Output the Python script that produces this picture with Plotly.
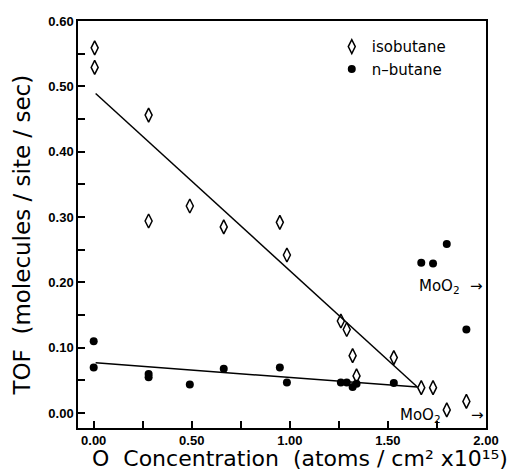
import plotly.graph_objects as go

# isobutane (open diamonds)
iso_x = [0.005, 0.005, 0.28, 0.28, 0.49, 0.663, 0.949, 0.985, 1.26, 1.29, 1.32, 1.34, 1.53, 1.67, 1.73, 1.80, 1.90]
iso_y = [0.559, 0.529, 0.456, 0.294, 0.317, 0.285, 0.292, 0.242, 0.141, 0.128, 0.088, 0.057, 0.085, 0.039, 0.039, 0.005, 0.018]

# n-butane (filled circles)
nb_x = [0.0, 0.0, 0.28, 0.28, 0.49, 0.663, 0.949, 0.985, 1.26, 1.29, 1.32, 1.34, 1.53, 1.67, 1.73, 1.80, 1.90]
nb_y = [0.110, 0.070, 0.060, 0.055, 0.044, 0.068, 0.070, 0.047, 0.047, 0.047, 0.040, 0.045, 0.046, 0.230, 0.229, 0.259, 0.128]

# linear fit lines (endpoints)
fit_x = [0.01, 1.65]
fit_iso_y = [0.489, 0.040]
fit_nb_y = [0.077, 0.040]

x_tickvals = [0, 0.25, 0.5, 0.75, 1.0, 1.25, 1.5, 1.75, 2.0]
x_ticklabels = ["0.00", "", "0.50", "", "1.00", "", "1.50", "", "2.00"]
y_tickvals = [0, 0.05, 0.1, 0.15, 0.2, 0.25, 0.3, 0.35, 0.4, 0.45, 0.5, 0.55, 0.6]
y_ticklabels = ["0.00", "", "0.10", "", "0.20", "", "0.30", "", "0.40", "", "0.50", "", "0.60"]

NB = "\u00a0"
SL = NB + "/" + NB
title_font = dict(family="DejaVu Sans", size=22, color="black")
tick_font = dict(family="Liberation Sans", size=13, color="black", weight="bold")
ann_font = dict(family="DejaVu Sans", size=15, color="black")

fig = go.Figure()
fig.add_trace(go.Scatter(x=fit_x, y=fit_iso_y, mode="lines", line=dict(color="black", width=1.5),
                         showlegend=False, hoverinfo="skip"))
fig.add_trace(go.Scatter(x=fit_x, y=fit_nb_y, mode="lines", line=dict(color="black", width=1.5),
                         showlegend=False, hoverinfo="skip"))
fig.add_trace(go.Scatter(x=iso_x, y=iso_y, mode="markers", name="isobutane",
                         marker=dict(symbol="diamond-tall-open", size=10, color="black",
                                     line=dict(width=1.5, color="black"))))
fig.add_trace(go.Scatter(x=nb_x, y=nb_y, mode="markers", name="n\u2013butane",
                         marker=dict(symbol="circle", size=8, color="black")))

fig.add_annotation(x=1.877, y=0.194, xref="x", yref="y", text="MoO<sub>2</sub>", showarrow=False,
                   xanchor="right", yanchor="middle", font=ann_font)
fig.add_annotation(x=1.995, y=0.194, xref="x", yref="y", text="\u2192", showarrow=False,
                   xanchor="right", yanchor="middle", font=ann_font)
fig.add_annotation(x=1.78, y=-0.003, xref="x", yref="y", text="MoO<sub>2</sub>", showarrow=False,
                   xanchor="right", yanchor="middle", font=ann_font)
fig.add_annotation(x=2.0, y=-0.003, xref="x", yref="y", text="\u2192", showarrow=False,
                   xanchor="right", yanchor="middle", font=ann_font)

# axis titles
fig.add_annotation(x=0.545, y=-0.073, xref="paper", yref="paper", height=26, valign="middle",
                   text="O" + NB * 2 + "Concentration" + NB * 2 + "(atoms" + SL + "cm\u00b2" + NB + "x10\u00b9\u2075)",
                   showarrow=False, xanchor="center", yanchor="middle", font=title_font)
fig.add_annotation(x=-0.137, y=0.473, xref="paper", yref="paper", textangle=-90,
                   text="TOF" + NB * 2 + "(molecules" + SL + "site" + SL + "sec)", showarrow=False,
                   xanchor="center", yanchor="middle", font=dict(family="DejaVu Sans", size=23, color="black"))

fig.update_layout(
    width=516, height=463,
    margin=dict(l=70, r=38, t=6, b=43),
    paper_bgcolor="white", plot_bgcolor="white",
    legend=dict(x=0.622, y=0.977, xanchor="left", yanchor="top", bgcolor="rgba(0,0,0,0)",
                font=dict(family="DejaVu Sans", size=15, color="black"),
                itemwidth=30, tracegroupgap=0),
    showlegend=True,
)
fig.update_xaxes(range=[-0.08, 2.0], tickvals=x_tickvals, ticktext=x_ticklabels,
                 ticks="inside", ticklen=7, tickwidth=1.5, tickcolor="black",
                 showline=True, linecolor="black", linewidth=1.5, mirror=True,
                 showgrid=False, zeroline=False, tickfont=tick_font)
fig.update_yaxes(range=[-0.0227, 0.6], tickvals=y_tickvals, ticktext=y_ticklabels,
                 ticks="inside", ticklen=7, tickwidth=1.5, tickcolor="black",
                 showline=True, linecolor="black", linewidth=1.5, mirror=True,
                 showgrid=False, zeroline=False, tickfont=tick_font)

fig.write_html("out.html")
